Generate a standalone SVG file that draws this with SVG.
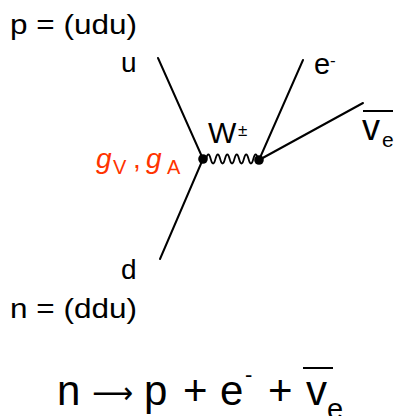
<svg xmlns="http://www.w3.org/2000/svg" width="396" height="416" viewBox="0 0 396 416">
<style>
.t{font-family:"Liberation Sans",Arial,sans-serif;fill:#000}
.ar{font-family:"DejaVu Sans",sans-serif;fill:#000}
.r{font-family:"Liberation Sans",Arial,sans-serif;fill:#FF3300;font-style:italic}
.rs{font-family:"Liberation Sans",Arial,sans-serif;fill:#FF3300}
.ln{stroke:#000;stroke-width:2;fill:none;stroke-linecap:round}
.bar{stroke:#000;stroke-width:2;fill:none}
</style>
<rect width="396" height="416" fill="#fff"/>
<g id="labels">
<text class="t" x="10" y="34" font-size="28" textLength="127" lengthAdjust="spacingAndGlyphs">p = (udu)</text>
<text class="t" x="10" y="318" font-size="28" textLength="127" lengthAdjust="spacingAndGlyphs">n = (ddu)</text>
</g>
<g id="connectors">
<line class="ln" x1="158" y1="58" x2="203" y2="159"/>
<line class="ln" x1="203" y1="159" x2="160" y2="259"/>
<line class="ln" x1="259" y1="160" x2="303" y2="60"/>
<line class="ln" x1="259" y1="160" x2="363" y2="103"/>
<path d="M206,159 q2.36,-9 4.73,0 t4.73,0 t4.73,0 t4.73,0 t4.73,0 t4.73,0 t4.73,0 t4.73,0 t4.73,0 t4.73,0 t4.73,0" fill="none" stroke="#000" stroke-width="1.8"/>
</g>
<g id="node-u"><text class="t" x="121" y="72" font-size="28">u</text></g>
<g id="node-d"><text class="t" x="121" y="279" font-size="28">d</text></g>
<g id="node-vertex1"><circle cx="203" cy="159" r="4.8" fill="#000"/>
<text class="r" x="96" y="168" font-size="28">g</text><text class="rs" x="113" y="174" font-size="20">V</text>
<text class="rs" x="133" y="168" font-size="28">,</text>
<text class="r" x="146" y="168" font-size="28">g</text><text class="rs" x="167" y="174" font-size="20">A</text>
</g>
<g id="node-vertex2"><circle cx="259" cy="160" r="4.8" fill="#000"/></g>
<g id="node-W"><text class="t" x="208" y="143" font-size="30">W</text><text class="t" x="238" y="136" font-size="17">±</text></g>
<g id="node-e"><text class="t" x="314" y="74" font-size="29">e</text><text class="t" x="330" y="66" font-size="17">-</text></g>
<g id="node-nu"><line class="bar" x1="363" y1="111" x2="393" y2="111"/>
<text class="t" x="362" y="140" font-size="36">v</text><text class="t" x="382" y="147" font-size="21">e</text></g>
<g id="equation">
<text class="t" x="57" y="405" font-size="42">n</text>
<text class="ar" x="92" y="403" font-size="30" textLength="41" lengthAdjust="spacingAndGlyphs">⟶</text>
<text class="t" x="144" y="405" font-size="42">p</text>
<text class="t" x="183" y="405" font-size="42">+</text>
<text class="t" x="220" y="405" font-size="42">e</text>
<text class="t" x="245" y="382" font-size="22">-</text>
<text class="t" x="268" y="405" font-size="42">+</text>
<line class="bar" x1="303" y1="368" x2="333" y2="368"/>
<text class="t" x="306" y="405" font-size="42">v</text>
<text class="t" x="327" y="419" font-size="29">e</text>
</g>
</svg>
